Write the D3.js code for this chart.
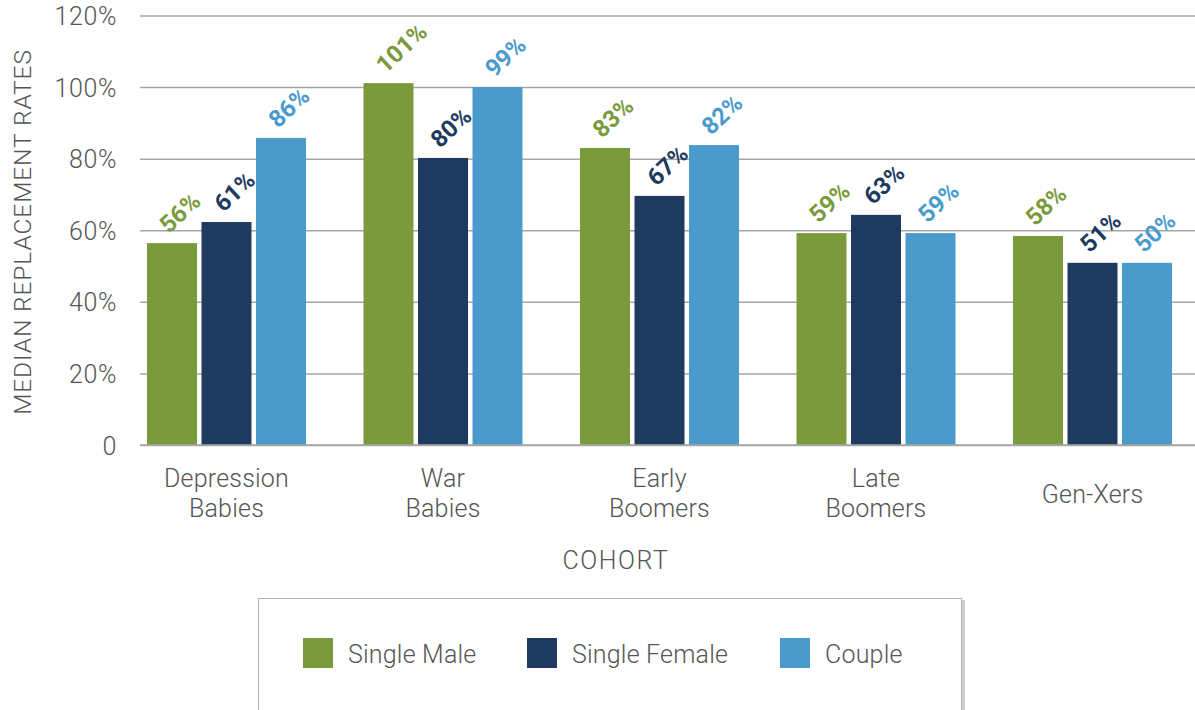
<!DOCTYPE html>
<html><head><meta charset="utf-8">
<script src="https://cdn.jsdelivr.net/npm/d3@7/dist/d3.min.js"></script>
<style>
html,body{margin:0;padding:0;background:#fff;}
svg{display:block;font-family:Roboto,"Liberation Sans",sans-serif;}
</style></head>
<body>
<svg id="chart" width="1195" height="710"></svg>
<script>
const categories = ["Depression Babies","War Babies","Early Boomers","Late Boomers","Gen-Xers"];
const categoryLines = [["Depression","Babies"],["War","Babies"],["Early","Boomers"],["Late","Boomers"],["Gen-Xers"]];
const seriesNames = ["Single Male","Single Female","Couple"];
const singleMale = [56.4, 101.1, 83.0, 59.2, 58.4];
const singleFemale = [62.3, 80.2, 69.6, 64.3, 50.9];
const couple = [85.8, 100.0, 83.8, 59.2, 50.9];
const singleMaleLabels = ["56%","101%","83%","59%","58%"];
const singleFemaleLabels = ["61%","80%","67%","63%","51%"];
const coupleLabels = ["86%","99%","82%","59%","50%"];
const yTicks = [0,20,40,60,80,100,120];
const yTickLabels = ["0","20%","40%","60%","80%","100%","120%"];
const colors = ["#7a9a3c","#1e3a5f","#4a9bcc"];

const seriesValues = [singleMale, singleFemale, couple];
const seriesLabels = [singleMaleLabels, singleFemaleLabels, coupleLabels];
const FONT = "Roboto, sans-serif";
const TXT = "#555";

const svg = d3.select("#chart");
const y = d3.scaleLinear().domain([0,120]).range([445,15.5]);
const x0 = d3.scaleBand().domain(categories).range([118.25,1200.75]).padding(0);
const x1 = d3.scaleBand().domain(seriesNames).range([28.75,187.75]).paddingInner(0.0826).paddingOuter(0);

// grid
const yAxis = d3.axisLeft(y).tickValues(yTicks).tickSize(-(1195-140)).tickFormat((d,i)=>yTickLabels[i]);
const ga = svg.append("g").attr("transform","translate(140,0)").call(yAxis);
ga.select(".domain").remove();
ga.selectAll(".tick line").attr("stroke","#a6a6a6").attr("stroke-width",1.5);
ga.selectAll(".tick text").attr("x",-23).attr("dy","0.36em").attr("fill",TXT).attr("font-size",25).attr("font-weight",300)
  .attr("letter-spacing",0.6).attr("font-family",FONT);

// bars
const groups = svg.append("g").selectAll("g").data(categories).join("g")
  .attr("transform",d=>`translate(${x0(d)},0)`);
groups.each(function(cat,ci){
  const g = d3.select(this);
  seriesNames.forEach((s,si)=>{
    const v = seriesValues[si][ci];
    g.append("rect").attr("x",x1(s)).attr("width",x1.bandwidth())
      .attr("y",y(v)).attr("height",y(0)-y(v)).attr("fill",colors[si]);
  });
});
svg.append("line").attr("x1",140).attr("x2",1195).attr("y1",y(0)).attr("y2",y(0)).attr("stroke","#a6a6a6").attr("stroke-width",1.5);

// data labels
groups.each(function(cat,ci){
  const g = d3.select(this);
  seriesNames.forEach((s,si)=>{
    const v = seriesValues[si][ci];
    const lx = x1(s)+22, ly = y(v)-9;
    g.append("text").attr("transform",`translate(${lx},${ly}) rotate(-43)`)
      .attr("fill",colors[si]).attr("font-weight",700).attr("font-size",24)
      .attr("font-family",FONT)
      .text(seriesLabels[si][ci]);
  });
});

// category labels
groups.each(function(cat,ci){
  const g = d3.select(this);
  const lines = categoryLines[ci];
  const cx = x0.bandwidth()/2;
  const startY = lines.length===2 ? 487 : 503;
  lines.forEach((ln,li)=>{
    g.append("text").attr("x",cx).attr("y",startY+li*30).attr("text-anchor","middle")
      .attr("fill",TXT).attr("font-size",25).attr("font-weight",300).attr("letter-spacing",0.2).text(ln);
  });
});

// axis titles
svg.append("text").attr("x",616).attr("y",569).attr("text-anchor","middle")
  .attr("fill",TXT).attr("font-size",25).attr("font-weight",300).attr("letter-spacing",1.6).text("COHORT");
svg.append("text").attr("transform","translate(31,232) rotate(-90)").attr("text-anchor","middle")
  .attr("fill",TXT).attr("font-size",24.5).attr("font-weight",300).attr("letter-spacing",0.9).text("MEDIAN REPLACEMENT RATES");

// legend
const lg = svg.append("g");
lg.append("rect").attr("x",261).attr("y",600).attr("width",704).attr("height",130).attr("fill","#d0d0d0");
lg.append("rect").attr("x",258.5).attr("y",598.5).attr("width",703).attr("height",130).attr("fill","#fff").attr("stroke","#b3b3b3").attr("stroke-width",1);
const legendX = [303,527,780];
seriesNames.forEach((s,i)=>{
  lg.append("rect").attr("x",legendX[i]).attr("y",638).attr("width",30).attr("height",30).attr("fill",colors[i]);
  lg.append("text").attr("x",legendX[i]+45).attr("y",663).attr("fill",TXT).attr("font-size",25).attr("font-weight",300).attr("letter-spacing",0.2).text(s);
});
</script>
</body></html>
